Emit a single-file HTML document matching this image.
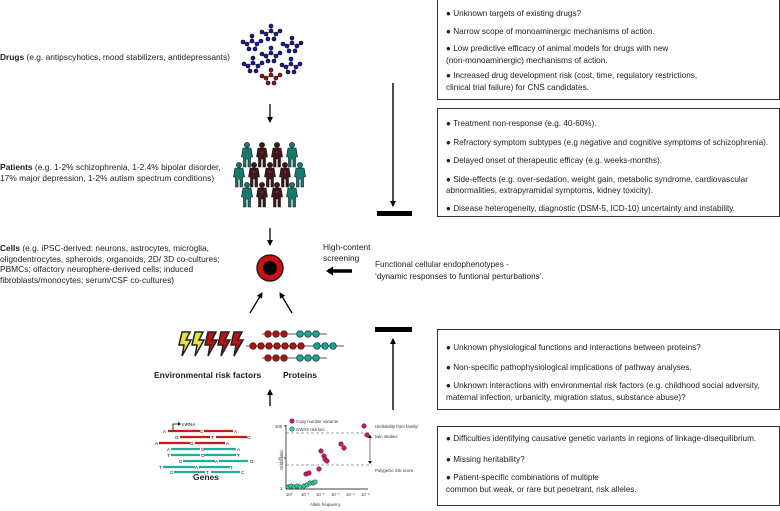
<!DOCTYPE html>
<html><head><meta charset="utf-8"><style>
html,body{margin:0;padding:0;background:#fff;}
body{width:780px;height:511px;position:relative;overflow:hidden;font-family:"Liberation Sans",sans-serif;color:#222;}
.t{position:absolute;font-size:8.4px;line-height:11px;white-space:nowrap;}
.box{position:absolute;border:1px solid #333;box-sizing:border-box;font-size:8.2px;line-height:11.5px;padding-left:8px;white-space:nowrap;}
.box p{margin:0;}
</style></head><body>

<div class="t" style="left:0;top:52px"><b>Drugs</b> (e.g. antipscyhotics, mood stabilizers, antidepressants)</div>
<div class="t" style="left:0;top:162px"><b>Patients</b> (e.g. 1-2% schizophrenia, 1-2.4% bipolar disorder,<br>17% major depression, 1-2% autism spectrum conditions)</div>
<div class="t" style="left:0;top:243px;line-height:10.5px"><b>Cells</b> (e.g. iPSC-derived: neurons, astrocytes, microglia,<br>oligodentrocytes, spheroids, organoids, 2D/ 3D co-cultures;<br>PBMCs; olfactory neurophere-derived cells; induced<br>fibroblasts/monocytes; serum/CSF co-cultures)</div>
<div class="t" style="left:323px;top:242px;line-height:11px">High-content<br>screening</div>
<div class="t" style="left:375px;top:259px;line-height:11.5px;font-size:8.2px">Functional cellular endophenotypes -<br>‘dynamic responses to funtional perturbations’.</div>
<div class="t" style="left:154px;top:370px;font-weight:bold;font-size:8.5px">Environmental risk factors</div>
<div class="t" style="left:283px;top:370px;font-weight:bold;font-size:8.5px">Proteins</div>
<div class="t" style="left:193px;top:472px;font-weight:bold;font-size:8.5px">Genes</div>

<div class="box" style="left:437px;top:-1px;width:343px;height:101px;padding-top:8px">
<p>● Unknown targets of existing drugs?</p><p style="margin-top:6px">● Narrow scope of monoaminergic mechanisms of action.</p><p style="margin-top:6px">● Low predictive efficacy of animal models for drugs with new<br>(non-monoaminergic) mechanisms of action.</p><p style="margin-top:4px">● Increased drug development risk (cost, time, regulatory restrictions,<br>clinical trial failure) for CNS candidates.</p></div>
<div class="box" style="left:437px;top:108px;width:343px;height:109px;padding-top:9px">
<p>● Treatment non-response (e.g. 40-60%).</p><p style="margin-top:7px">● Refractory symptom subtypes (e.g negative and cognitive symptoms of schizophrenia).</p><p style="margin-top:7px">● Delayed onset of therapeutic efficay (e.g. weeks-months).</p><p style="margin-top:7px">● Side-effects (e.g. over-sedation, weight gain, metabolic syndrome, cardiovascular<br>abnormalities, extrapyramidal symptoms, kidney toxicity).</p><p style="margin-top:6px">● Disease heterogeneity, diagnostic (DSM-5, ICD-10) uncertainty and instability.</p></div>
<div class="box" style="left:437px;top:329px;width:343px;height:81px;padding-top:12px">
<p>● Unknown physiological functions and interactions between proteins?</p><p style="margin-top:8px">● Non-specific pathophysiological implications of pathway analyses.</p><p style="margin-top:7px">● Unknown interactions with environmental risk factors (e.g. childhood social adversity,<br>maternal infection, urbanicity, migration status, substance abuse)?</p></div>
<div class="box" style="left:437px;top:426px;width:343px;height:80px;padding-top:6px">
<p>● Difficulties identifying causative genetic variants in regions of linkage-disequilibrium.</p><p style="margin-top:9px">● Missing heritability?</p><p style="margin-top:7px">● Patient-specific combinations of multiple<br>common but weak, or rare but penetrant, risk alleles.</p></div>

<svg width="780" height="511" style="position:absolute;left:0;top:0" xmlns="http://www.w3.org/2000/svg">
<defs>
<marker id="ah" markerWidth="6" markerHeight="6" refX="5" refY="3" orient="auto" markerUnits="userSpaceOnUse"><path d="M0,0 L6,3 L0,6 z" fill="#000"/></marker>
<g id="mol" stroke="#000" stroke-width="0.6"><line x1="0" y1="0" x2="5" y2="-3"/><line x1="5" y1="-3" x2="10" y2="0"/><line x1="0" y1="0" x2="2" y2="5"/><line x1="5" y1="-3" x2="5" y2="-8"/><line x1="10" y1="0" x2="14" y2="-3"/><line x1="10" y1="0" x2="8" y2="5"/><circle cx="0" cy="0" r="2"/><circle cx="5" cy="-3" r="2"/><circle cx="10" cy="0" r="2"/><circle cx="2" cy="5" r="2"/><circle cx="5" cy="-8" r="2"/><circle cx="14" cy="-3" r="2"/><circle cx="8" cy="5" r="2"/><circle cx="-4" cy="-2" r="2"/></g>
<g id="per"><circle cx="0" cy="-9" r="2.6"/><path d="M-4,-6 h8 l1.5,9 h-2 v10 h-2.5 v-8 h-2 v8 h-2.5 v-10 h-2 z"/></g>
<path id="bolt" d="M5,0 h8 l-4,8 h5 l-9,16 l2,-11 h-5 z" stroke="#222" stroke-width="1.5"/>
</defs>
<g fill="#1a1aa0">
<use href="#mol" x="266" y="34"/><use href="#mol" x="247" y="44"/><use href="#mol" x="287" y="46"/>
<use href="#mol" x="266" y="56"/><use href="#mol" x="248" y="66"/><use href="#mol" x="286" y="67"/>
</g>
<g fill="#a01515"><use href="#mol" x="266" y="78"/></g>
<line x1="270" y1="104" x2="270" y2="122" stroke="#000" stroke-width="1.3" marker-end="url(#ah)"/>
<line x1="270" y1="228" x2="270" y2="245" stroke="#000" stroke-width="1.3" marker-end="url(#ah)"/>
<line x1="250" y1="313" x2="262" y2="293" stroke="#000" stroke-width="1.3" marker-end="url(#ah)"/>
<line x1="292" y1="313" x2="280" y2="293" stroke="#000" stroke-width="1.3" marker-end="url(#ah)"/>
<line x1="270" y1="406" x2="270" y2="390" stroke="#000" stroke-width="1.3" marker-end="url(#ah)"/>
<line x1="352" y1="271" x2="328" y2="271" stroke="#000" stroke-width="3.5"/>
<path d="M326,271 l7,-4.5 v9 z" fill="#000"/>
<line x1="393" y1="83" x2="393" y2="206" stroke="#000" stroke-width="1.4" marker-end="url(#ah)"/>
<rect x="377" y="211" width="35" height="5" fill="#000"/>
<line x1="393" y1="410" x2="393" y2="339" stroke="#000" stroke-width="1.4" marker-end="url(#ah)"/>
<rect x="375" y="327" width="37" height="5" fill="#000"/>
<g stroke="#111" stroke-width="0.6">
<g fill="#147a70"><use href="#per" x="247" y="154"/><use href="#per" x="292" y="154"/><use href="#per" x="239" y="174"/><use href="#per" x="300" y="174"/><use href="#per" x="247" y="194"/><use href="#per" x="292" y="194"/></g>
<g fill="#3a1a1a"><use href="#per" x="262" y="154"/><use href="#per" x="277" y="154"/><use href="#per" x="254" y="174"/><use href="#per" x="270" y="174"/><use href="#per" x="285" y="174"/><use href="#per" x="262" y="194"/><use href="#per" x="277" y="194"/></g>
</g>
<g fill="#e01010"><circle cx="262" cy="152" r="1"/><circle cx="277" cy="152" r="1"/><circle cx="254" cy="172" r="1"/><circle cx="270" cy="172" r="1"/><circle cx="285" cy="172" r="1"/><circle cx="262" cy="192" r="1"/><circle cx="277" cy="192" r="1"/></g>
<circle cx="270" cy="268" r="13" fill="#d01010" stroke="#222" stroke-width="1.5"/>
<circle cx="270" cy="268" r="7" fill="#000"/>
<g fill="#e8e040"><use href="#bolt" x="177" y="332"/><use href="#bolt" x="190" y="332"/></g>
<g fill="#c01010"><use href="#bolt" x="203" y="332"/><use href="#bolt" x="216" y="332"/><use href="#bolt" x="229" y="332"/></g>
<g stroke="#222" stroke-width="0.7">
<line x1="262" y1="334" x2="327" y2="334"/><line x1="246" y1="346" x2="344" y2="346"/><line x1="262" y1="358" x2="327" y2="358"/>
<g fill="#b01010"><circle cx="268" cy="334" r="3.3"/><circle cx="276" cy="334" r="3.3"/><circle cx="284" cy="334" r="3.3"/>
<circle cx="253" cy="346" r="3.3"/><circle cx="261" cy="346" r="3.3"/><circle cx="269" cy="346" r="3.3"/><circle cx="277" cy="346" r="3.3"/><circle cx="285" cy="346" r="3.3"/><circle cx="293" cy="346" r="3.3"/><circle cx="301" cy="346" r="3.3"/>
<circle cx="268" cy="358" r="3.3"/><circle cx="276" cy="358" r="3.3"/><circle cx="284" cy="358" r="3.3"/></g>
<g fill="#10a898"><circle cx="300" cy="334" r="3.3"/><circle cx="308" cy="334" r="3.3"/><circle cx="316" cy="334" r="3.3"/>
<circle cx="317" cy="346" r="3.3"/><circle cx="325" cy="346" r="3.3"/><circle cx="333" cy="346" r="3.3"/>
<circle cx="300" cy="358" r="3.3"/><circle cx="308" cy="358" r="3.3"/><circle cx="316" cy="358" r="3.3"/></g>
</g>
<g stroke-width="2.2">
<g stroke="#d01818"><line x1="168" y1="431" x2="200" y2="431"/><line x1="204" y1="431" x2="233" y2="431"/><line x1="180" y1="437" x2="210" y2="437"/><line x1="216" y1="437" x2="247" y2="437"/><line x1="159" y1="443" x2="190" y2="443"/><line x1="195" y1="443" x2="225" y2="443"/></g>
<g stroke="#20b09a"><line x1="171" y1="449" x2="200" y2="449"/><line x1="204" y1="449" x2="236" y2="449"/><line x1="171" y1="455" x2="200" y2="455"/><line x1="204" y1="455" x2="236" y2="455"/><line x1="183" y1="461" x2="215" y2="461"/><line x1="219" y1="461" x2="248" y2="461"/><line x1="163" y1="467" x2="195" y2="467"/><line x1="199" y1="467" x2="230" y2="467"/><line x1="174" y1="472" x2="205" y2="472"/><line x1="211" y1="472" x2="240" y2="472"/></g>
</g>
<path d="M173,430 v-6 h5" stroke="#000" fill="none" stroke-width="0.8"/><path d="M178,422 l3,2 l-3,2z"/>
<g font-size="4.5" font-family="Liberation Sans" fill="#000"><text x="182" y="426">mRNA</text>
<text x="163" y="433">A</text><text x="200" y="433">C</text><text x="234" y="433">A</text><text x="175" y="439">G</text><text x="211" y="439">T</text><text x="247" y="439">G</text><text x="155" y="445">A</text><text x="190" y="445">G</text><text x="226" y="445">A</text>
<text x="167" y="451">A</text><text x="201" y="451">G</text><text x="237" y="451">A</text><text x="167" y="457">T</text><text x="201" y="457">C</text><text x="237" y="457">T</text><text x="179" y="463">G</text><text x="215" y="463">A</text><text x="250" y="463">G</text><text x="159" y="469">T</text><text x="195" y="469">A</text><text x="230" y="469">T</text><text x="170" y="474">C</text><text x="206" y="474">T</text><text x="241" y="474">C</text></g>
<g stroke="#000" stroke-width="0.7" fill="none"><path d="M286,425 V489 H368"/><line x1="284" y1="426" x2="286" y2="426"/><line x1="284" y1="458" x2="286" y2="458"/></g>
<g stroke="#444" stroke-width="0.6" stroke-dasharray="3,2"><line x1="286" y1="433" x2="372" y2="433"/><line x1="286" y1="465" x2="372" y2="465"/></g>
<line x1="370" y1="437" x2="370" y2="462" stroke="#000" stroke-width="0.5"/>
<path d="M368,438 l2,-3 l2,3z M368,461 l2,3 l2,-3z" fill="#000"/>
<g font-size="4.3" font-family="Liberation Sans" fill="#333"><text x="275" y="428">100</text><text x="278" y="460">10</text><text x="280" y="490">1</text>
<text x="296" y="423">Copy number variants</text><text x="296" y="431">GWAS risk loci</text>
<text x="375" y="428">Heritability from family/</text><text x="375" y="438">twin studies</text><text x="375" y="472">Polygenic risk score</text>
<text x="286" y="496">10⁰</text><text x="301" y="496">10⁻¹</text><text x="316" y="496">10⁻²</text><text x="331" y="496">10⁻³</text><text x="346" y="496">10⁻⁴</text><text x="361" y="496">10⁻⁵</text>
<text x="310" y="506">Allele frequency</text><text transform="translate(283,470) rotate(-90)">Odds ratio</text></g>
<g stroke="#222" stroke-width="0.5" fill="#d8106a"><circle cx="292" cy="421" r="2.2"/><circle cx="364" cy="426" r="2.3"/><circle cx="367" cy="435" r="2.3"/><circle cx="341" cy="444" r="2.3"/><circle cx="344" cy="448" r="2.3"/><circle cx="321" cy="451" r="2.3"/><circle cx="324" cy="456" r="2.3"/><circle cx="325" cy="459" r="2.3"/><circle cx="327" cy="461" r="2.3"/><circle cx="319" cy="469" r="2.3"/><circle cx="306" cy="474" r="2.3"/><circle cx="309" cy="473" r="2.3"/></g>
<g stroke="#222" stroke-width="0.5" fill="#2ad0a8"><circle cx="292" cy="429" r="2.2"/><circle cx="288" cy="487" r="2.2"/><circle cx="291" cy="486" r="2.2"/><circle cx="294" cy="487" r="2.2"/><circle cx="297" cy="486" r="2.2"/><circle cx="300" cy="487" r="2.2"/><circle cx="304" cy="486" r="2.2"/><circle cx="307" cy="485" r="2.2"/><circle cx="310" cy="483" r="2.2"/><circle cx="313" cy="483" r="2.2"/><circle cx="315" cy="482" r="2.2"/></g>
</svg>
</body></html>
